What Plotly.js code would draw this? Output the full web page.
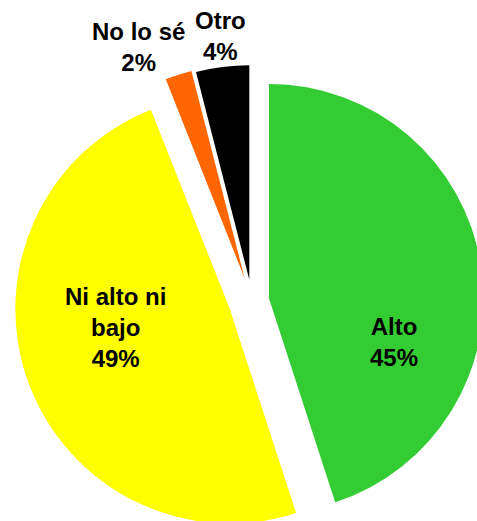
<!DOCTYPE html>
<html>
<head>
<meta charset="utf-8">
<script src="https://cdn.plot.ly/plotly-3.0.1.min.js"></script>
<style>
  html, body { margin: 0; padding: 0; overflow: hidden; background: #fff; }
  #chart { width: 490px; height: 540px; }
</style>
</head>
<body>
<div id="chart"></div>
<script>
const categories = ['Alto', 'Ni alto ni bajo', 'No lo sé', 'Otro'];
const displayLabels = ['Alto', 'Ni alto ni<br>bajo', 'No lo sé', 'Otro'];
const values = [45, 49, 2, 4];
const colors = ['#33CC33', '#FFFF00', '#FF6600', '#000000'];
const pulls = [0.08, 0.11, 0.11, 0.10];

// label placement (paper coordinates), one per category
const labelX = [0.7973, 0.2122, 0.2616, 0.4328];
const labelY = [0.4139, 0.4433, 1.0330, 1.0560];

const total = values.reduce((a, b) => a + b, 0);
const font = { family: 'Liberation Sans, Arial, sans-serif', size: 24, color: '#000000', weight: 'bold' };

const trace = {
  type: 'pie',
  labels: categories,
  values: values,
  sort: false,
  direction: 'clockwise',
  rotation: 0,
  pull: pulls,
  marker: { colors: colors, line: { width: 0 } },
  textinfo: 'none',
  hoverinfo: 'label+percent',
  automargin: false
};

const annotations = categories.map((c, i) => ({
  xref: 'paper', yref: 'paper',
  x: labelX[i], y: labelY[i],
  xanchor: 'center', yanchor: 'middle',
  showarrow: false,
  align: 'center',
  text: displayLabels[i] + '<br>' + Math.round(values[i] / total * 100) + '%',
  font: font
}));

const layout = {
  width: 490,
  height: 540,
  margin: { l: 14, r: 0, t: 63, b: 1 },
  showlegend: false,
  paper_bgcolor: '#ffffff',
  plot_bgcolor: '#ffffff',
  annotations: annotations
};

Plotly.newPlot('chart', [trace], layout, { displayModeBar: false, staticPlot: true });
</script>
</body>
</html>
